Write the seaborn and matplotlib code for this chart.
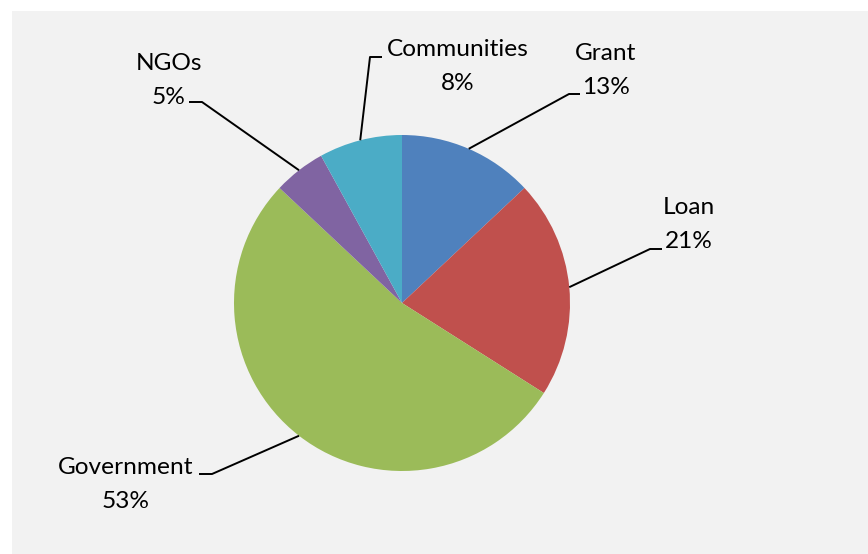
import numpy as np
import matplotlib
matplotlib.use("Agg")
import matplotlib.pyplot as plt
from matplotlib.patches import Rectangle
import seaborn as sns

# Funding sources, clockwise from 12 o'clock
sources = ["Grant", "Loan", "Government", "NGOs", "Communities"]
shares = [13, 21, 53, 5, 8]
slice_colors = ["#4F81BD", "#C0504D", "#9BBB59", "#8064A2", "#4BACC6"]

sns.set_theme(style="white")
plt.rcParams["font.family"] = ["Lato", "DejaVu Sans"]

W, H = 868, 554
fig = plt.figure(figsize=(W / 100, H / 100), dpi=100)
ax = fig.add_axes([0, 0, 1, 1])

# light grey chart area
ax.add_patch(Rectangle((12, 0), W - 12, H - 11, facecolor="#F2F2F2",
                       edgecolor="none", zorder=0))

cx, cy, r = 402, H - 303, 168
palette = sns.color_palette(slice_colors)
wedges, _ = ax.pie(shares, colors=palette, startangle=90, counterclock=False,
                   center=(cx, cy), radius=r, frame=True,
                   wedgeprops=dict(linewidth=0))
ax.set_xlim(0, W)
ax.set_ylim(0, H)
ax.set_aspect("equal")
ax.axis("off")

# label placement: text centre (x, y of first line), elbow segment (x_text_side, x_elbow, y)
label_pos = {
    "Grant": ((606, 53), (580, 569, 94)),
    "Loan": ((689, 208), (662, 650, 249)),
    "Government": ((126, 467), (199, 212, 474)),
    "NGOs": ((169, 63), (189, 202, 102)),
    "Communities": ((458, 49), (382, 370, 57)),
}

for w, name, val in zip(wedges, sources, shares):
    (tx, ty), (x0, x1, ly) = label_pos[name]
    ax.text(tx, H - ty, name, ha="center", va="center", fontsize=17.6, color="black")
    ax.text(tx, H - ty - 34, f"{val}%", ha="center", va="center", fontsize=17.6, color="black")
    mid = np.deg2rad((w.theta1 + w.theta2) / 2)
    px, py = cx + r * np.cos(mid), cy + r * np.sin(mid)
    ax.plot([x0, x1, px], [H - ly, H - ly, py], color="black", lw=1.4,
            solid_capstyle="butt", zorder=3)

fig.savefig("out.png", dpi=100, facecolor="white")
